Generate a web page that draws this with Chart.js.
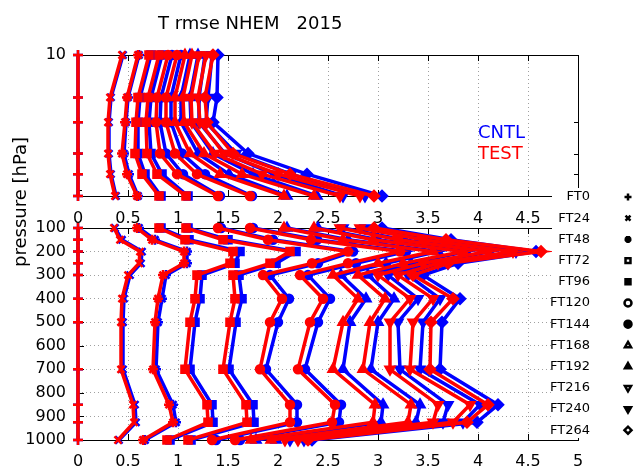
<!DOCTYPE html>
<html>
<head>
<meta charset="utf-8">
<script src="https://cdn.jsdelivr.net/npm/chart.js@4.4.0/dist/chart.umd.min.js"></script>
<style>
  html, body { margin: 0; padding: 0; background: #fff; }
  #wrap { position: relative; width: 643px; height: 468px; }
  canvas { position: absolute; left: 0; top: 0; }
</style>
</head>
<body>
<div id="wrap">
  <canvas id="upper" width="643" height="468"></canvas>
  <canvas id="lower" width="643" height="468"></canvas>
</div>
<script>
// pressure levels of the two panels
const upperLevels = [10, 20, 30, 50, 70, 100];
const lowerLevels = [100, 150, 200, 250, 300, 400, 500, 700, 850, 925, 1000];
const forecastTimes = ['FT0', 'FT24', 'FT48', 'FT72', 'FT96', 'FT120', 'FT144',
                       'FT168', 'FT192', 'FT216', 'FT240', 'FT264'];
const upperTicks = [10, 20, 30, 40, 50, 60, 70, 80, 90, 100];

// one row per forecast time, one value per level (upper panel)
const testUpper = [
  [0, 0, 0, 0, 0, 0],
  [0.44, 0.32, 0.30, 0.30, 0.32, 0.37],
  [0.60, 0.49, 0.47, 0.44, 0.49, 0.59],
  [0.71, 0.60, 0.58, 0.57, 0.64, 0.81],
  [0.81, 0.70, 0.68, 0.69, 0.79, 1.08],
  [0.90, 0.79, 0.78, 0.82, 0.99, 1.40],
  [0.99, 0.88, 0.88, 0.97, 1.19, 1.72],
  [1.07, 0.97, 0.97, 1.12, 1.42, 2.06],
  [1.14, 1.05, 1.06, 1.26, 1.64, 2.36],
  [1.21, 1.13, 1.14, 1.37, 1.84, 2.62],
  [1.28, 1.20, 1.22, 1.46, 2.00, 2.82],
  [1.35, 1.27, 1.29, 1.55, 2.12, 2.96]
];
const cntlUpper = [
  [0, 0, 0, 0, 0, 0],
  [0.45, 0.33, 0.31, 0.31, 0.33, 0.38],
  [0.61, 0.50, 0.48, 0.46, 0.51, 0.60],
  [0.73, 0.62, 0.60, 0.60, 0.67, 0.83],
  [0.84, 0.73, 0.71, 0.73, 0.84, 1.10],
  [0.94, 0.83, 0.82, 0.88, 1.05, 1.42],
  [1.03, 0.93, 0.93, 1.04, 1.27, 1.74],
  [1.12, 1.03, 1.03, 1.20, 1.51, 2.09],
  [1.20, 1.12, 1.13, 1.35, 1.75, 2.39],
  [1.27, 1.21, 1.21, 1.47, 1.96, 2.65],
  [1.34, 1.30, 1.28, 1.58, 2.13, 2.87],
  [1.40, 1.39, 1.35, 1.70, 2.29, 3.04]
];

// lower panel
const testLower = [
  [0, 0, 0, 0, 0, 0, 0, 0, 0, 0, 0],
  [0.36, 0.42, 0.62, 0.61, 0.50, 0.44, 0.43, 0.43, 0.55, 0.56, 0.40],
  [0.59, 0.74, 1.06, 1.06, 0.85, 0.80, 0.77, 0.75, 0.91, 0.95, 0.65],
  [0.81, 1.07, 1.55, 1.52, 1.19, 1.17, 1.12, 1.07, 1.29, 1.30, 0.89],
  [1.08, 1.45, 2.12, 1.92, 1.55, 1.57, 1.52, 1.45, 1.68, 1.69, 1.10],
  [1.40, 1.90, 2.70, 2.34, 1.85, 2.04, 1.92, 1.82, 2.12, 2.12, 1.34],
  [1.72, 2.33, 3.22, 2.70, 2.22, 2.45, 2.32, 2.20, 2.57, 2.54, 1.57],
  [2.06, 2.65, 3.55, 3.00, 2.55, 2.80, 2.65, 2.55, 2.97, 2.95, 1.73],
  [2.36, 2.95, 3.85, 3.25, 2.80, 3.07, 2.92, 2.85, 3.33, 3.30, 1.93],
  [2.62, 3.20, 4.10, 3.45, 3.00, 3.32, 3.12, 3.12, 3.60, 3.55, 2.07],
  [2.82, 3.45, 4.35, 3.60, 3.20, 3.55, 3.35, 3.32, 3.92, 3.75, 2.20],
  [2.96, 3.68, 4.63, 3.70, 3.35, 3.75, 3.53, 3.52, 4.10, 3.89, 2.30]
];
const cntlLower = [
  [0, 0, 0, 0, 0, 0, 0, 0, 0, 0, 0],
  [0.37, 0.44, 0.64, 0.63, 0.52, 0.46, 0.45, 0.45, 0.57, 0.58, 0.41],
  [0.61, 0.77, 1.09, 1.09, 0.88, 0.84, 0.80, 0.78, 0.95, 0.98, 0.67],
  [0.83, 1.11, 1.62, 1.57, 1.24, 1.22, 1.17, 1.12, 1.34, 1.35, 0.92],
  [1.10, 1.50, 2.18, 1.98, 1.61, 1.64, 1.58, 1.51, 1.75, 1.76, 1.13],
  [1.43, 1.95, 2.75, 2.40, 1.92, 2.11, 2.00, 1.88, 2.19, 2.19, 1.38],
  [1.75, 2.39, 3.28, 2.78, 2.30, 2.52, 2.40, 2.27, 2.63, 2.61, 1.62],
  [2.09, 2.70, 3.60, 3.08, 2.63, 2.88, 2.72, 2.65, 3.05, 3.03, 1.78],
  [2.40, 3.00, 3.88, 3.33, 2.90, 3.16, 3.00, 2.93, 3.42, 3.38, 1.98],
  [2.65, 3.25, 4.12, 3.53, 3.10, 3.40, 3.20, 3.22, 3.70, 3.65, 2.12],
  [2.87, 3.52, 4.38, 3.70, 3.30, 3.62, 3.45, 3.42, 4.02, 3.85, 2.26],
  [3.04, 3.73, 4.58, 3.80, 3.45, 3.82, 3.64, 3.62, 4.20, 3.99, 2.34]
];

const RED = '#ff0000';
const BLUE = '#0000ff';
const GRID = '#a0a0a0';
const FONT = 'DejaVu Sans';

// gnuplot point types 1..12
const markers = [
  {style: 'cross'}, {style: 'crossRot'}, {style: 'star'},
  {style: 'rect', open: true}, {style: 'rect'},
  {style: 'circle', open: true}, {style: 'circle'},
  {style: 'triangle', open: true}, {style: 'triangle'},
  {style: 'triangle', rot: 180, open: true}, {style: 'triangle', rot: 180},
  {style: 'rectRot', open: true}
];

Chart.defaults.font.family = FONT;
Chart.defaults.font.size = 16;
Chart.defaults.color = '#000';

function series(label, levels, values, color, m) {
  return {
    label: label,
    data: levels.map((p, k) => ({x: values[k], y: p})),
    showLine: true,
    borderColor: color,
    backgroundColor: color,
    borderWidth: 3.5,
    pointStyle: m.style,
    pointRotation: m.rot || 0,
    pointRadius: m.style === 'circle' ? 4 : 5,
    pointBorderWidth: 2.5,
    pointBackgroundColor: color,
    pointBorderColor: color,
    clip: false
  };
}

function makeDatasets(levels, test, cntl) {
  const sets = [];
  // first datasets are drawn on top: TEST over CNTL
  forecastTimes.forEach((ft, i) => sets.push(series('TEST ' + ft, levels, test[i], RED, markers[i])));
  forecastTimes.forEach((ft, i) => sets.push(series('CNTL ' + ft, levels, cntl[i], BLUE, markers[i])));
  return sets;
}

// border with inward ticks, like gnuplot
const framePlugin = {
  id: 'frame',
  beforeDatasetsDraw(chart) {
    const {ctx, chartArea: a, scales} = chart;
    const upper = chart.canvas.id === 'upper';
    ctx.save();
    ctx.strokeStyle = '#000';
    ctx.lineWidth = 1;
    ctx.strokeRect(a.left + 0.5, a.top + 0.5, a.right - a.left, a.bottom - a.top);
    ctx.beginPath();
    scales.x.ticks.forEach(t => {
      if (t.value <= 0 || t.value >= 5) return;
      const x = Math.round(scales.x.getPixelForValue(t.value)) + 0.5;
      ctx.moveTo(x, a.top); ctx.lineTo(x, a.top + 6);
      ctx.moveTo(x, a.bottom); ctx.lineTo(x, a.bottom - 6);
    });
    scales.y.ticks.forEach(t => {
      const first = upper ? 10 : 100, last = upper ? 100 : 1000;
      if (t.value <= first || t.value >= last) return;
      const y = Math.round(scales.y.getPixelForValue(t.value)) + 0.5;
      const len = upper ? 4 : 6;
      ctx.moveTo(a.left, y); ctx.lineTo(a.left + len, y);
      ctx.moveTo(a.right, y); ctx.lineTo(a.right - len, y);
    });
    ctx.stroke();
    ctx.restore();
  }
};

// key, title and free labels
const annotatePlugin = {
  id: 'annotate',
  afterDraw(chart) {
    const ctx = chart.ctx;
    ctx.save();
    ctx.fillStyle = '#fff';
    ctx.fillRect(552, 188, 91, 250);
    ctx.font = '13px "' + FONT + '"';
    ctx.textAlign = 'right';
    ctx.textBaseline = 'middle';
    forecastTimes.forEach((ft, i) => {
      const y = 197 + i * 21.2;
      ctx.fillStyle = '#000';
      ctx.fillText(ft, 590, y);
      const m = markers[i];
      ctx.fillStyle = m.open ? '#fff' : '#000';
      ctx.strokeStyle = '#000';
      Chart.helpers.drawPoint(ctx, {pointStyle: m.style, rotation: m.rot || 0, radius: 3.5, borderWidth: 1}, 628, y);
    });

    ctx.textAlign = 'left';
    ctx.textBaseline = 'alphabetic';
    ctx.fillStyle = '#000';
    ctx.font = '18px "' + FONT + '"';
    ctx.fillText('T rmse NHEM   2015', 158, 29);

    ctx.fillStyle = BLUE;
    ctx.fillText('CNTL', 478, 138);
    ctx.fillStyle = RED;
    ctx.fillText('TEST', 478, 159);

    ctx.fillStyle = '#000';
    ctx.translate(26, 202);
    ctx.rotate(-Math.PI / 2);
    ctx.textAlign = 'center';
    ctx.font = '18px "' + FONT + '"';
    ctx.fillText('pressure [hPa]', 0, 0);
    ctx.restore();
  }
};

new Chart(document.getElementById('upper'), {
  type: 'scatter',
  data: {datasets: makeDatasets(upperLevels, testUpper, cntlUpper)},
  options: {
    responsive: false,
    animation: false,
    devicePixelRatio: 1,
    events: [],
    layout: {padding: {left: 0, right: 65, top: 55, bottom: 232}},
    plugins: {legend: {display: false}, tooltip: {enabled: false}},
    scales: {
      x: {
        type: 'linear', min: 0, max: 5,
        afterFit: s => { s.height = 40; },
        ticks: {stepSize: 0.5, padding: 13, callback: v => (v === 5 ? '' : String(v))},
        grid: {color: GRID, lineWidth: 1, drawTicks: false},
        border: {display: false, dash: [1, 3]}
      },
      y: {
        type: 'logarithmic', min: 10, max: 100, reverse: true,
        afterFit: s => { s.width = 78; },
        afterBuildTicks: s => { s.ticks = upperTicks.map(v => ({value: v})); },
        ticks: {padding: 12, callback: v => (v === 10 || v === 100 ? String(v) : '')},
        grid: {display: false, drawTicks: false},
        border: {display: false}
      }
    }
  },
  plugins: [framePlugin]
});

new Chart(document.getElementById('lower'), {
  type: 'scatter',
  data: {datasets: makeDatasets(lowerLevels, testLower, cntlLower)},
  options: {
    responsive: false,
    animation: false,
    devicePixelRatio: 1,
    events: [],
    layout: {padding: {left: 0, right: 65, top: 228, bottom: 0}},
    plugins: {legend: {display: false}, tooltip: {enabled: false}},
    scales: {
      x: {
        type: 'linear', min: 0, max: 5,
        afterFit: s => { s.height = 28; },
        ticks: {stepSize: 0.5, padding: 12, callback: v => String(v)},
        grid: {color: GRID, lineWidth: 1, drawTicks: false},
        border: {display: false, dash: [1, 3]}
      },
      y: {
        type: 'linear', min: 100, max: 1000, reverse: true,
        afterFit: s => { s.width = 78; },
        ticks: {stepSize: 100, padding: 12, callback: v => String(v)},
        grid: {color: GRID, lineWidth: 1, drawTicks: false},
        border: {display: false, dash: [1, 3]}
      }
    }
  },
  plugins: [framePlugin, annotatePlugin]
});
</script>
</body>
</html>
